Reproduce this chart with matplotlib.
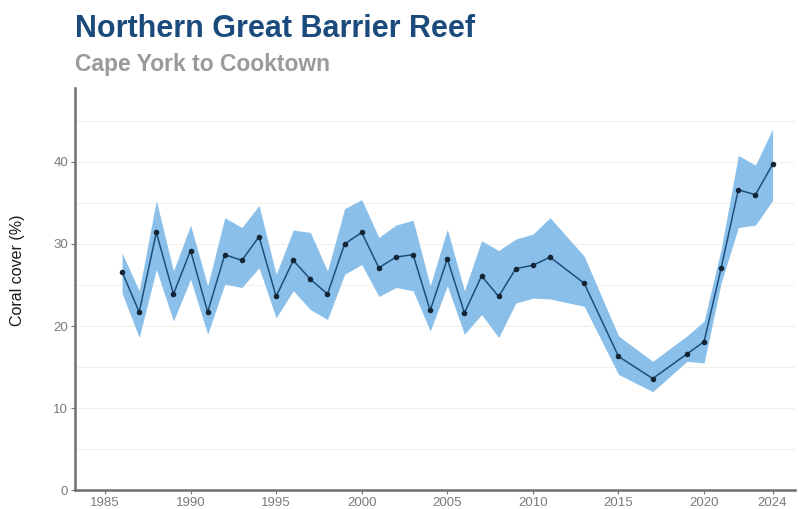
import matplotlib
matplotlib.use("Agg")
import matplotlib.pyplot as plt
from matplotlib.ticker import MultipleLocator

years = [1986, 1987, 1988, 1989, 1990, 1991, 1992, 1993, 1994, 1995,
         1996, 1997, 1998, 1999, 2000, 2001, 2002, 2003, 2004, 2005,
         2006, 2007, 2008, 2009, 2010, 2011, 2013, 2015, 2017, 2019,
         2020, 2021, 2022, 2023, 2024]
cover = [26.6, 21.7, 31.4, 23.9, 29.2, 21.7, 28.7, 28.0, 30.9, 23.6,
         28.0, 25.7, 23.9, 30.0, 31.4, 27.1, 28.4, 28.7, 21.9, 28.2,
         21.6, 26.1, 23.6, 27.0, 27.4, 28.4, 25.2, 16.3, 13.6, 16.6,
         18.1, 27.1, 36.6, 36.0, 39.7]
upper = [28.9, 24.3, 35.3, 26.7, 32.3, 24.9, 33.2, 32.0, 34.7, 26.3,
         31.7, 31.4, 26.7, 34.3, 35.4, 30.8, 32.3, 32.9, 24.9, 31.8,
         24.3, 30.4, 29.2, 30.6, 31.2, 33.2, 28.5, 18.8, 15.7, 18.8,
         20.6, 29.4, 40.8, 39.6, 44.0]
lower = [24.0, 18.6, 26.9, 20.6, 25.7, 19.0, 25.1, 24.7, 27.1, 21.0,
         24.3, 22.0, 20.8, 26.3, 27.5, 23.6, 24.7, 24.3, 19.4, 24.9,
         19.0, 21.4, 18.6, 22.8, 23.4, 23.3, 22.4, 14.1, 12.0, 15.7,
         15.5, 25.3, 32.0, 32.3, 35.3]
xticks = [1985, 1990, 1995, 2000, 2005, 2010, 2015, 2020, 2024]
yticks = [0, 10, 20, 30, 40]

title = "Northern Great Barrier Reef"
subtitle = "Cape York to Cooktown"
ylabel = "Coral cover (%)"

plt.rcParams['font.family'] = ['Liberation Sans', 'DejaVu Sans']

fig = plt.figure(figsize=(7.98, 5.09), dpi=100)
ax = fig.add_axes([0.094, 0.037, 0.902, 0.790])

ax.fill_between(years, lower, upper, color='#8abfea', alpha=1.0, linewidth=0, zorder=2)
ax.plot(years, cover, color='#1d4f7c', linewidth=1.1, zorder=3)
ax.scatter(years, cover, s=9, color='#152535', zorder=4)

ax.set_xlim(1983.25, 2025.3)
ax.set_ylim(0, 49)
ax.set_xticks(xticks)
ax.set_yticks(yticks)
ax.yaxis.set_minor_locator(MultipleLocator(5))
ax.grid(axis='y', which='both', color='#f1f1ec', linewidth=0.8, zorder=0)
ax.set_axisbelow(True)

for s in ['top', 'right']:
    ax.spines[s].set_visible(False)
for s in ['left', 'bottom']:
    ax.spines[s].set_color('#6f6f6f')
    ax.spines[s].set_linewidth(1.8)

ax.tick_params(axis='both', which='major', labelsize=9.5, labelcolor='#7a7a7a',
               color='#7a7a7a', length=3, width=0.8, pad=2)
ax.tick_params(axis='y', which='minor', length=0)

ax.set_ylabel(ylabel, fontsize=11.5, color='#1a1a1a')
ax.yaxis.set_label_coords(-0.069, 0.547)

fig.text(0.094, 0.944, title, fontsize=22, fontweight='bold', color='#1b4a7c',
         ha='left', va='center')
fig.text(0.094, 0.874, subtitle, fontsize=16.5, fontweight='bold', color='#9a9a9a',
         ha='left', va='center')

fig.savefig('out.png', dpi=100)
